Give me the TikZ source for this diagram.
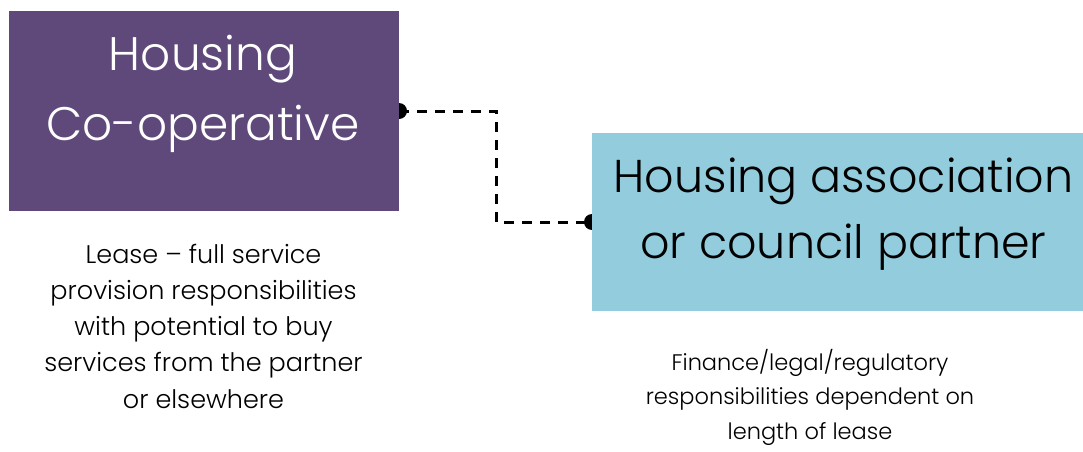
\documentclass[tikz,border=0pt]{standalone}
\usepackage{fontspec}
\setmainfont{Poppins}[UprightFont=* Light]
\usetikzlibrary{backgrounds}
\definecolor{coop}{HTML}{5F497A}
\definecolor{assoc}{HTML}{93CDDD}
\tikzset{
  box/.style={draw=none, inner sep=0pt, outer sep=0pt},
  conn/.style={line width=3pt, dash pattern=on 10pt off 8pt, black},
  enddot/.style={circle, fill=black, inner sep=0pt, minimum size=16pt},
  bigtext/.style={inner sep=0pt, align=center, anchor=base},
  smalltext/.style={inner sep=0pt, align=center, anchor=base, text=black},
}
\begin{document}
\begin{tikzpicture}[x=1pt,y=1pt]
\useasboundingbox (0,0) rectangle (1083,451);
\clip (0,0) rectangle (1083,451);
\node[box, fill=coop, minimum width=390pt, minimum height=200pt] (coopbox) at (204,340) {};
\node[box, fill=assoc, minimum width=503pt, minimum height=178pt] (assocbox) at (843.5,229) {};
\node[bigtext, font=\fontsize{47}{70}\selectfont, text=white] (cooptext) at (203,311) {Housing\\Co-operative};
\node[bigtext, font=\fontsize{46}{66}\selectfont, text=black] (assoctext) at (843.5,193) {Housing association\\or council partner};
\node[smalltext, font=\fontsize{25.5}{36.3}\selectfont] (leasetext) at (203.5,42.8) {Lease -- full service\\provision responsibilities\\with potential to buy\\services from the partner\\or elsewhere};
\node[smalltext, font=\fontsize{22.5}{34.5}\selectfont] (fintext) at (810,12) {Finance/legal/regulatory\\responsibilities dependent on\\length of lease};
\coordinate (bend) at (496,280);
\begin{scope}[on background layer]
\draw[conn] (coopbox.east) -| (bend) |- (assocbox.west);
\node[enddot] (dotA) at (coopbox.east) {};
\node[enddot] (dotB) at (assocbox.west) {};
\end{scope}
\end{tikzpicture}
\end{document}
